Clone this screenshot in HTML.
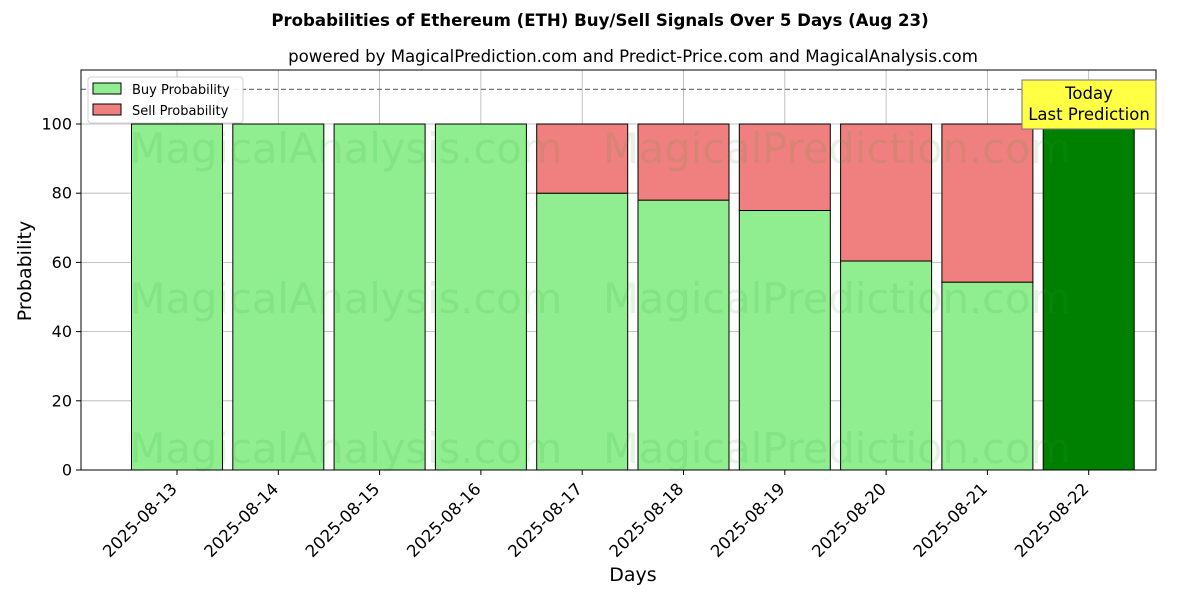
<!DOCTYPE html>
<html><head><meta charset="utf-8"><style>
body{margin:0;background:#fff;font-family:"DejaVu Sans","Liberation Sans",sans-serif}
</style></head><body>
<svg id="c" width="1200" height="600" xmlns="http://www.w3.org/2000/svg" font-family="DejaVu Sans, Liberation Sans, sans-serif">
<text x="600" y="26" text-anchor="middle" font-size="16.6" font-weight="bold">Probabilities of Ethereum (ETH) Buy/Sell Signals Over 5 Days (Aug 23)</text>
<text x="633" y="62" text-anchor="middle" font-size="16.6">powered by MagicalPrediction.com and Predict-Price.com and MagicalAnalysis.com</text>
<g id="grid"></g>
<g id="bars"></g>
<g font-size="41.6" fill="#2ca02c" opacity="0.12">
<text x="346" y="163" text-anchor="middle">MagicalAnalysis.com</text>
<text x="837" y="163" text-anchor="middle">MagicalPrediction.com</text>
<text x="346" y="313" text-anchor="middle">MagicalAnalysis.com</text>
<text x="837" y="313" text-anchor="middle">MagicalPrediction.com</text>
<text x="346" y="463" text-anchor="middle">MagicalAnalysis.com</text>
<text x="837" y="463" text-anchor="middle">MagicalPrediction.com</text>
</g>
<line x1="81" x2="1156" y1="89.4" y2="89.4" stroke="#777" stroke-dasharray="5,3" stroke-width="1.2"/>
<rect x="81" y="70" width="1075" height="400" fill="none" stroke="#000" stroke-width="1"/>
<g id="axes" font-size="15"></g>
<text transform="translate(31,271) rotate(-90)" text-anchor="middle" font-size="19">Probability</text>
<text x="633" y="581" text-anchor="middle" font-size="19">Days</text>
<g>
<rect x="88" y="77" width="155" height="46" rx="3" fill="#fff" stroke="#ccc" opacity="0.9"/>
<rect x="93" y="83" width="28" height="11" fill="#90ee90" stroke="#000"/>
<text x="132" y="94" font-size="13">Buy Probability</text>
<rect x="93" y="104" width="28" height="11" fill="#f08080" stroke="#000"/>
<text x="132" y="115" font-size="13">Sell Probability</text>
</g>
<g>
<rect x="1022" y="80" width="134" height="49" fill="#ffff44" stroke="#777"/>
<text x="1089" y="99" text-anchor="middle" font-size="16.5">Today</text>
<text x="1089" y="120" text-anchor="middle" font-size="16.5">Last Prediction</text>
</g>
</svg>
<script>
const categories=["2025-08-13","2025-08-14","2025-08-15","2025-08-16","2025-08-17","2025-08-18","2025-08-19","2025-08-20","2025-08-21","2025-08-22"];
const buyValues=[100,100,100,100,80,78,75,60.4,54.3,100];
const sellValues=[0,0,0,0,20,22,25,39.6,45.7,0];
const yTicks=[0,20,40,60,80,100];
const NS="http://www.w3.org/2000/svg";
const y=v=>470-v*3.46;
const x=i=>177+i*101.3;
const bw=91;
function mk(t,a,p){const e=document.createElementNS(NS,t);for(const k in a)e.setAttribute(k,a[k]);p.appendChild(e);return e;}
const grid=document.getElementById('grid'),bars=document.getElementById('bars'),axes=document.getElementById('axes');
yTicks.forEach(t=>{
 const g=mk('line',{x1:81,x2:1156,y1:y(t),y2:y(t),stroke:'#b0b0b0','stroke-width':0.8},grid);
 
 
 const tk=mk('line',{x1:76,x2:81,y1:y(t),y2:y(t),stroke:'#000'},axes);
 
 
 const l=mk('text',{x:72,y:y(t)+5.5,'text-anchor':'end','font-size':16},axes);l.textContent=t;
 
 
});
categories.forEach((c,i)=>{
 const gl=mk('line',{x1:x(i),x2:x(i),y1:70,y2:470,stroke:'#b0b0b0','stroke-width':0.8},grid);
 
 
 const last=i===categories.length-1;
 const b=mk('rect',{x:x(i)-bw/2,y:y(buyValues[i]),width:bw,height:y(0)-y(buyValues[i]),fill:last?'#008000':'#90ee90',stroke:'#000','stroke-width':1},bars);
 
 
 if(sellValues[i]>0){
  const s=mk('rect',{x:x(i)-bw/2,y:y(buyValues[i]+sellValues[i]),width:bw,height:y(buyValues[i])-y(buyValues[i]+sellValues[i]),fill:'#f08080',stroke:'#000','stroke-width':1},bars);
  
  
 }
 const tk=mk('line',{x1:x(i),x2:x(i),y1:470,y2:475,stroke:'#000'},axes);
 
 
 const l=mk('text',{x:0,y:0,'text-anchor':'end','font-size':16.6,transform:`translate(${x(i)+1},${490}) rotate(-45)`},axes);l.textContent=c;
 
 
});
</script>
</body></html>
